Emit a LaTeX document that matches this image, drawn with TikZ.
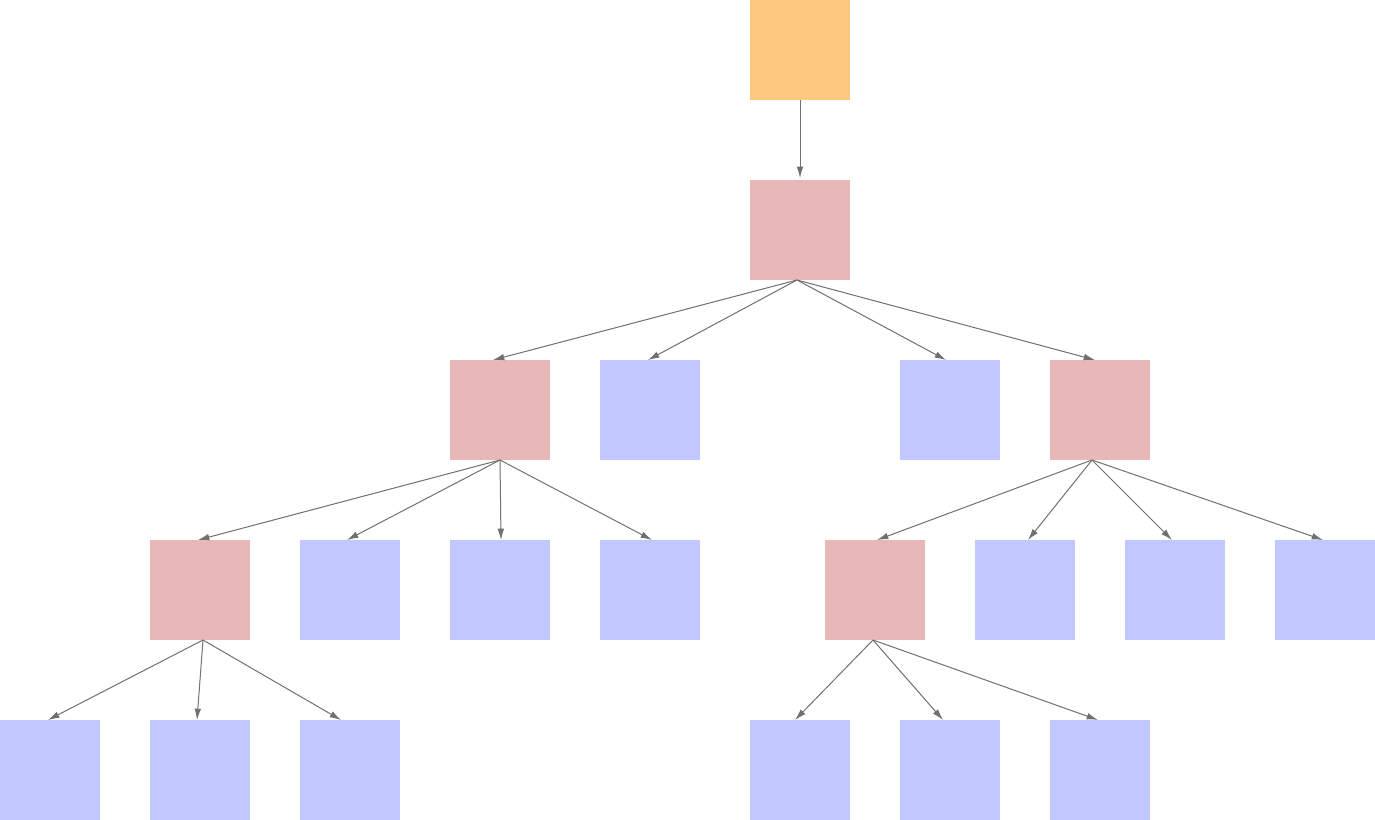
\documentclass[tikz,border=0pt]{standalone}
\usetikzlibrary{arrows.meta,calc}
\definecolor{orangebox}{HTML}{FFC880}
\definecolor{pinkbox}{HTML}{E8B8B8}
\definecolor{bluebox}{HTML}{C0C8FF}
\definecolor{edgegray}{HTML}{707070}
\begin{document}
\begin{tikzpicture}[x=0.75pt,y=-0.75pt,
  box/.style={minimum width=75pt,minimum height=75pt,inner sep=0pt,outer sep=0pt,draw=none},
  rootbox/.style={box,fill=orangebox},
  inner/.style={box,fill=pinkbox},
  leaf/.style={box,fill=bluebox},
  edge/.style={draw=edgegray,line width=0.75pt,-{Latex[length=8.5pt,width=5pt]}}]
\useasboundingbox (0,0) rectangle (1375,820);
% level 0 / 1
\node[rootbox] (r) at (800,50) {};
\node[inner] (a) at (800,230) {};
% level 2
\node[inner] (b1) at (500,410) {};
\node[leaf] (b2) at (650,410) {};
\node[leaf] (b3) at (950,410) {};
\node[inner] (b4) at (1100,410) {};
% level 3
\node[inner] (c1) at (200,590) {};
\node[leaf] (c2) at (350,590) {};
\node[leaf] (c3) at (500,590) {};
\node[leaf] (c4) at (650,590) {};
\node[inner] (c5) at (875,590) {};
\node[leaf] (c6) at (1025,590) {};
\node[leaf] (c7) at (1175,590) {};
\node[leaf] (c8) at (1325,590) {};
% level 4
\node[leaf] (d1) at (50,770) {};
\node[leaf] (d2) at (200,770) {};
\node[leaf] (d3) at (350,770) {};
\node[leaf] (d4) at (800,770) {};
\node[leaf] (d5) at (950,770) {};
\node[leaf] (d6) at (1100,770) {};
% edges
\draw[edge] (r.south) -- ($(a.north)+(0,-2)$);
\draw[edge] ($(a.south)+(-3,0)$) -- ($(b1.north)+(-7,0)$);
\draw[edge] ($(a.south)+(-3,0)$) -- ($(b2.north)+(-2,0)$);
\draw[edge] ($(a.south)+(-3,0)$) -- ($(b3.north)+(-4,0)$);
\draw[edge] ($(a.south)+(-3,0)$) -- ($(b4.north)+(-5,0)$);
\draw[edge] (b1.south) -- ($(c1.north)+(-2,0)$);
\draw[edge] (b1.south) -- ($(c2.north)+(-3,0)$);
\draw[edge] (b1.south) -- ($(c3.north)+(1,0)$);
\draw[edge] (b1.south) -- ($(c4.north)+(2,0)$);
\draw[edge] ($(b4.south)+(-8,0)$) -- ($(c5.north)+(2,0)$);
\draw[edge] ($(b4.south)+(-8,0)$) -- ($(c6.north)+(3,0)$);
\draw[edge] ($(b4.south)+(-8,0)$) -- ($(c7.north)+(-3,0)$);
\draw[edge] ($(b4.south)+(-8,0)$) -- ($(c8.north)+(-2,0)$);
\draw[edge] ($(c1.south)+(3,0)$) -- ($(d1.north)+(-2,0)$);
\draw[edge] ($(c1.south)+(3,0)$) -- ($(d2.north)+(-3,0)$);
\draw[edge] ($(c1.south)+(3,0)$) -- ($(d3.north)+(-9,0)$);
\draw[edge] ($(c5.south)+(-2,0)$) -- ($(d4.north)+(-5,0)$);
\draw[edge] ($(c5.south)+(-2,0)$) -- ($(d5.north)+(-7,0)$);
\draw[edge] ($(c5.south)+(-2,0)$) -- ($(d6.north)+(-2,0)$);
\end{tikzpicture}
\end{document}
